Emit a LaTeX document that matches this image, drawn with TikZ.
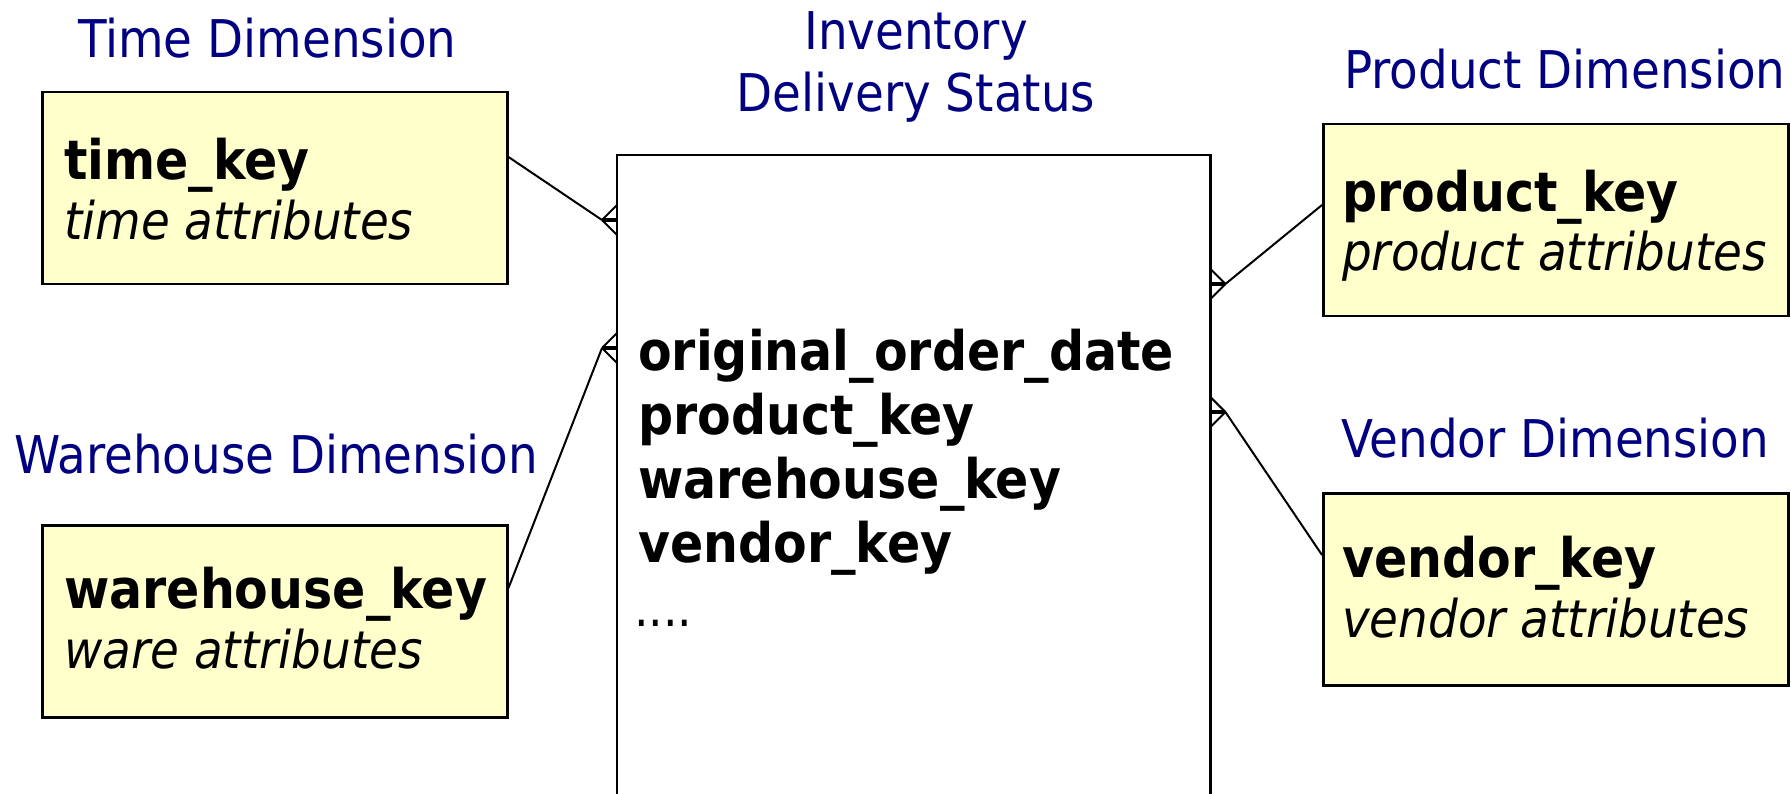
\documentclass[tikz,border=0pt]{standalone}
\usepackage{fontspec}
\setmainfont{DejaVu Sans}[FakeStretch=0.9]
\usepackage{xcolor}
\usetikzlibrary{calc}
\definecolor{dimyellow}{HTML}{FFFFCC}
\definecolor{dimnavy}{HTML}{000080}
\tikzset{
  dimbox/.style={draw, line width=2.5pt, fill=dimyellow, anchor=north west,
    minimum width=465pt, minimum height=192pt, inner sep=0pt},
  keytext/.style={anchor=base west, inner sep=0pt, font=\fontsize{54.5}{62}\selectfont\bfseries},
  attrtext/.style={anchor=base west, inner sep=0pt, font=\fontsize{52}{62}\selectfont\itshape},
  headtext/.style={anchor=base west, inner sep=0pt, text=dimnavy, font=\fontsize{52}{62}\selectfont},
  link/.style={line width=2pt},
  stub/.style={line width=4pt},
}

\begin{document}
\begin{tikzpicture}[x=1pt, y=-1pt]
  \useasboundingbox (0,0) rectangle (1791,794);
  % fact table, open at the bottom
  \node[anchor=north west, minimum width=593pt, minimum height=639pt, inner sep=0pt] (fact) at (617,155) {};
  \draw[line width=2.5pt] (fact.south west) -- (fact.north west) -- (fact.north east) -- (fact.south east);
  \node[headtext, anchor=base] (facttitle) at (916,50) {Inventory};
  \node[headtext, anchor=base] (factsub) at (916,112) {Delivery Status};
  \foreach \f [count=\i from 0] in {original\_order\_date, product\_key, warehouse\_key, vendor\_key}
    \node[keytext] (field\i) at (638,370+64*\i) {\f};
  \node[attrtext, font=\fontsize{51}{62}\selectfont] (fieldmore) at (634,626) {....};

  % dimension tables
  \node[dimbox] (time) at (41,91) {};
  \node[headtext] (timetitle) at (78,58) {Time Dimension};
  \node[keytext] (timekey) at (64,180) {time\_key};
  \node[attrtext] (timeattr) at (64,240) {time attributes};

  \node[dimbox] (warehouse) at (41,524) {};
  \node[headtext] (waretitle) at (14,473) {Warehouse Dimension};
  \node[keytext] (warekey) at (64,608) {warehouse\_key};
  \node[attrtext] (wareattr) at (64,668) {ware attributes};

  \node[dimbox] (product) at (1322,123) {};
  \node[headtext] (prodtitle) at (1344,89) {Product Dimension};
  \node[keytext] (prodkey) at (1342,212) {product\_key};
  \node[attrtext] (prodattr) at (1342,271) {product attributes};

  \node[dimbox] (vendor) at (1322,492) {};
  \node[headtext] (vendtitle) at (1341,457) {Vendor Dimension};
  \node[keytext] (vendkey) at (1342,577) {vendor\_key};
  \node[attrtext] (vendattr) at (1342,637) {vendor attributes};

  % crow's feet on the fact table
  \coordinate (tfork) at ($(fact.north west)+(-15,65)$);
  \coordinate (wfork) at ($(fact.north west)+(-15,193)$);
  \coordinate (pfork) at ($(fact.north east)+(15,129)$);
  \coordinate (vfork) at ($(fact.north east)+(15,257)$);
  \draw[link] ($(time.north east)+(0,66)$) -- (tfork);
  \draw[link] ($(warehouse.north east)+(0,64)$) -- (wfork);
  \draw[link] ($(product.north west)+(0,82)$) -- (pfork);
  \draw[link] ($(vendor.north west)+(0,63)$) -- (vfork);
  \foreach \f/\d in {tfork/1, wfork/1, pfork/-1, vfork/-1} {
    \draw[link] (\f) -- ++(15*\d,-15) (\f) -- ++(15*\d,15);
    \draw[stub] (\f) -- ++(15*\d,0);
  }
\end{tikzpicture}
\end{document}
